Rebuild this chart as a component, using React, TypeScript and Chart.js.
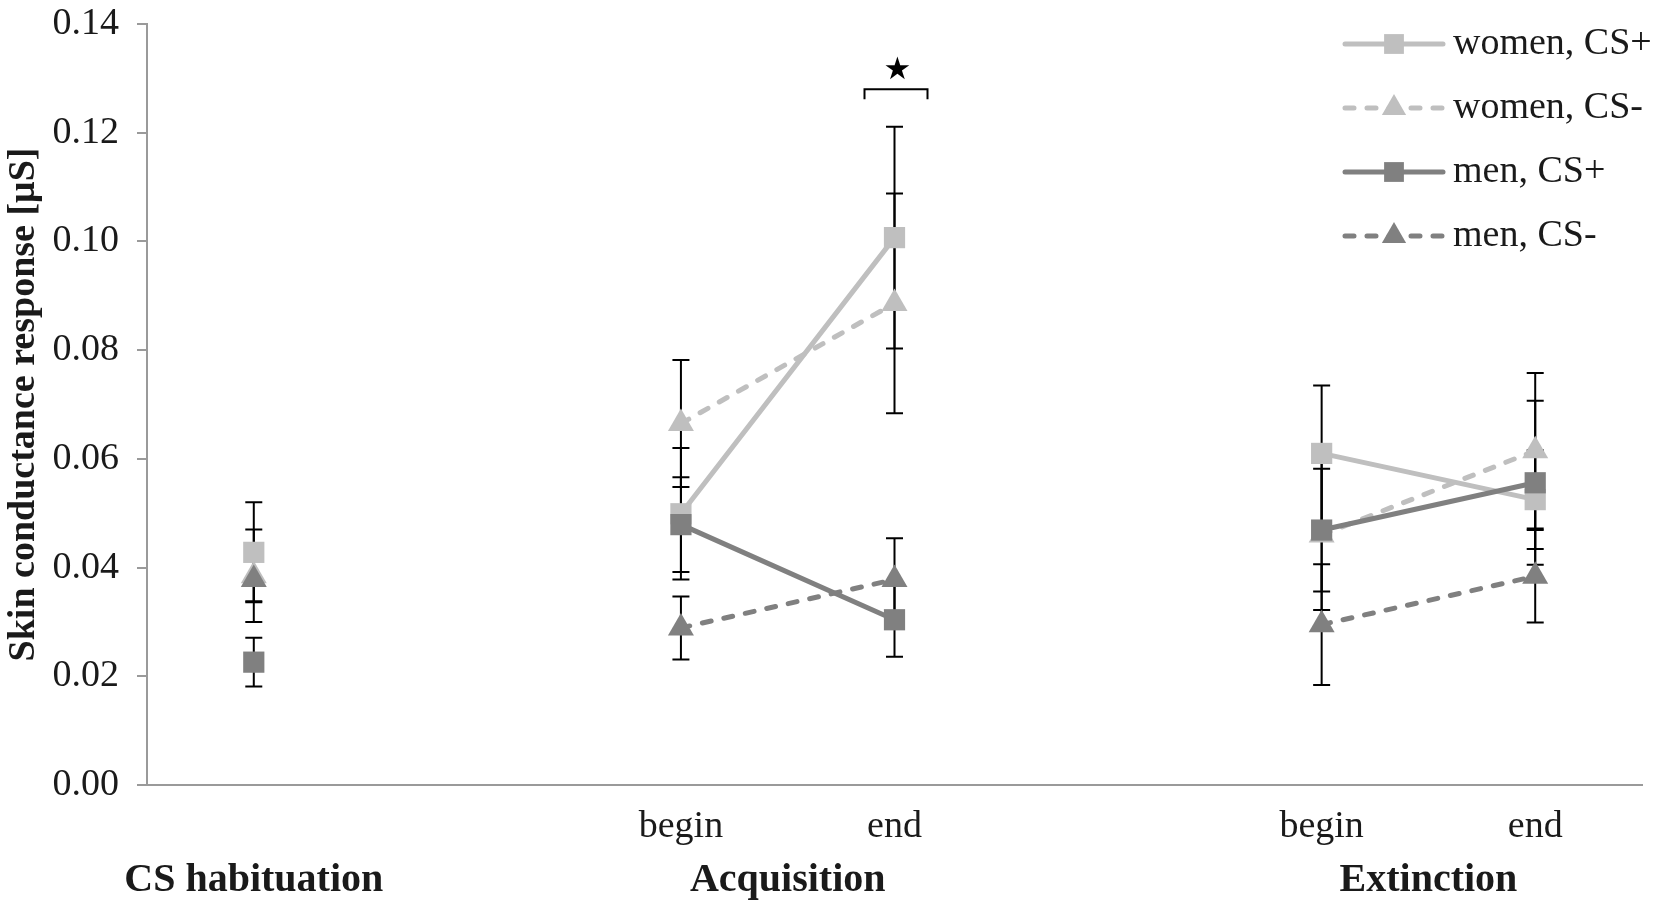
import { useEffect, useRef } from "react"
import { Chart, registerables } from "chart.js"

Chart.register(...registerables)

// x slots: 0 = CS habituation, 2/3 = acquisition begin/end, 5/6 = extinction begin/end
const categories = ["", "", "begin", "end", "", "begin", "end"]
const phaseLabels = ["CS habituation", "Acquisition", "Extinction"]
const phaseSpans = [[0, 0], [2, 3], [5, 6]]

const seriesNames = ["women, CS+", "women, CS-", "men, CS+", "men, CS-"]

const womenCSplus = [0.0428, null, 0.0499, 0.1007, null, 0.061, 0.0525]
const womenCSminus = [0.0385, null, 0.0665, 0.0886, null, 0.046, 0.0615]
const menCSplus = [0.0226, null, 0.0479, 0.0304, null, 0.0469, 0.0556]
const menCSminus = [0.0378, null, 0.0289, 0.0378, null, 0.0295, 0.0384]

const womenCSplusErr = [0.0092, null, 0.0121, 0.0204, null, 0.0125, 0.0091]
const womenCSminusErr = [0.0085, null, 0.0117, 0.0202, null, 0.0138, 0.0143]
const menCSplusErr = [0.0045, null, 0.0087, 0.0068, null, 0.0113, 0.0151]
const menCSminusErr = [0.004, null, 0.0058, 0.0076, null, 0.0111, 0.0085]

const sigIndex = 3
const sigLevel = 0.128

const seriesValues = [womenCSplus, womenCSminus, menCSplus, menCSminus]
const seriesErrors = [womenCSplusErr, womenCSminusErr, menCSplusErr, menCSminusErr]

const LIGHT = "#bfbfbf"
const DARK = "#808080"
const AXIS = "#9a9a9a"
const TEXT = "#1a1a1a"
const SERIF = "'Liberation Serif', 'Times New Roman', serif"
const DASH = [9, 13]

function marker(ctx: CanvasRenderingContext2D, style: string, x: number, y: number, r: number) {
  ctx.beginPath()
  if (style === "rect") {
    const h = r * Math.SQRT1_2
    ctx.rect(x - h, y - h, 2 * h, 2 * h)
  } else {
    ctx.moveTo(x, y - r)
    ctx.lineTo(x + r * Math.sin((2 * Math.PI) / 3), y - r * Math.cos((2 * Math.PI) / 3))
    ctx.lineTo(x + r * Math.sin((4 * Math.PI) / 3), y - r * Math.cos((4 * Math.PI) / 3))
    ctx.closePath()
  }
  ctx.fill()
}

const errorBars = {
  id: "errorBars",
  beforeDatasetsDraw(chart: any) {
    const { ctx, scales } = chart
    const { x, y } = scales
    ctx.save()
    ctx.strokeStyle = "#000"
    ctx.lineWidth = 2
    seriesErrors.forEach((errs, di) => {
      seriesValues[di].forEach((v, i) => {
        const e = errs[i]
        if (v == null || e == null) return
        const px = x.getPixelForValue(i)
        const top = y.getPixelForValue(v + e)
        const bot = y.getPixelForValue(v - e)
        ctx.beginPath()
        ctx.moveTo(px, top)
        ctx.lineTo(px, bot)
        ctx.moveTo(px - 8.5, top)
        ctx.lineTo(px + 8.5, top)
        ctx.moveTo(px - 8.5, bot)
        ctx.lineTo(px + 8.5, bot)
        ctx.stroke()
      })
    })
    ctx.restore()
  },
}

const extras = {
  id: "extras",
  afterDraw(chart: any) {
    const { ctx, scales, chartArea } = chart
    const { x, y } = scales
    ctx.save()

    // phase labels under the begin/end ticks
    ctx.fillStyle = TEXT
    ctx.font = `bold 40px ${SERIF}`
    ctx.textAlign = "center"
    ctx.textBaseline = "middle"
    phaseSpans.forEach(([a, b], i) => {
      const cx = (x.getPixelForValue(a) + x.getPixelForValue(b)) / 2
      ctx.fillText(phaseLabels[i], cx, 881)
    })

    // significance bracket
    const px = x.getPixelForValue(sigIndex)
    const py = y.getPixelForValue(sigLevel)
    ctx.strokeStyle = "#000"
    ctx.lineWidth = 2
    ctx.beginPath()
    ctx.moveTo(px - 30, py + 10)
    ctx.lineTo(px - 30, py)
    ctx.lineTo(px + 33, py)
    ctx.lineTo(px + 33, py + 10)
    ctx.stroke()
    ctx.fillStyle = "#000"
    ctx.font = "31px 'DejaVu Sans'"
    ctx.fillText("★", px + 3, py - 18)

    // legend: line sample with marker
    const ds = chart.data.datasets
    ds.forEach((d: any, i: number) => {
      const ry = chartArea.top + 20 + i * 64
      const x0 = chartArea.right - 297
      const x1 = chartArea.right - 199
      ctx.strokeStyle = d.borderColor
      ctx.lineWidth = 5
      ctx.lineCap = "round"
      ctx.setLineDash(d.borderDash || [])
      ctx.beginPath()
      ctx.moveTo(x0, ry)
      ctx.lineTo(x1, ry)
      ctx.stroke()
      ctx.setLineDash([])
      ctx.fillStyle = d.backgroundColor
      marker(ctx, d.pointStyle, (x0 + x1) / 2, ry, 14)
      ctx.fillStyle = TEXT
      ctx.font = `38px ${SERIF}`
      ctx.textAlign = "left"
      ctx.textBaseline = "middle"
      ctx.fillText(d.label, chartArea.right - 189, ry)
    })
    ctx.restore()
  },
}

export default function App() {
  const chartRef = useRef<HTMLCanvasElement>(null)

  useEffect(() => {
    document.body.style.margin = "0"
    if (!chartRef.current) return
    const ctx = chartRef.current.getContext("2d")
    if (!ctx) return

    const styles = [
      { color: LIGHT, dash: [], point: "rect", order: 4 },
      { color: LIGHT, dash: DASH, point: "triangle", order: 3 },
      { color: DARK, dash: [], point: "rect", order: 2 },
      { color: DARK, dash: DASH, point: "triangle", order: 1 },
    ]

    const chart = new Chart(ctx, {
      type: "line",
      data: {
        labels: categories,
        datasets: seriesValues.map((vals, i) => ({
          label: seriesNames[i],
          data: vals,
          borderColor: styles[i].color,
          backgroundColor: styles[i].color,
          borderWidth: 5,
          borderDash: styles[i].dash,
          borderCapStyle: "round",
          pointStyle: styles[i].point,
          pointRadius: 15,
          pointBorderWidth: 0,
          pointBackgroundColor: styles[i].color,
          spanGaps: false,
          order: styles[i].order,
        })),
      },
      options: {
        animation: false,
        responsive: true,
        maintainAspectRatio: false,
        layout: { padding: { top: 24, right: 17, left: 0, bottom: 0 } },
        plugins: {
          legend: { display: false },
          tooltip: { enabled: false },
        },
        scales: {
          x: {
            offset: true,
            grid: { display: false, drawTicks: false, tickLength: 0 },
            border: { display: true, color: AXIS, width: 2 },
            ticks: {
              color: TEXT,
              font: { family: SERIF, size: 38 },
              padding: 19,
              autoSkip: false,
              maxRotation: 0,
            },
            afterFit: (s: any) => {
              s.height = 127
              s.paddingLeft = 0
              s.paddingRight = 0
            },
          },
          y: {
            min: 0,
            max: 0.14,
            grid: {
              display: true,
              drawOnChartArea: false,
              drawTicks: true,
              tickLength: 10,
              color: AXIS,
              lineWidth: 2,
            },
            border: { display: true, color: AXIS, width: 2 },
            ticks: {
              stepSize: 0.02,
              color: TEXT,
              font: { family: SERIF, size: 38 },
              padding: 18,
              callback: (v: any) => Number(v).toFixed(2),
            },
            title: {
              display: true,
              text: "Skin conductance response [μS]",
              color: TEXT,
              font: { family: SERIF, size: 38, weight: "bold" },
              padding: 1,
            },
            afterFit: (s: any) => {
              s.width = 147
              s.paddingTop = 0
              s.paddingBottom = 0
            },
          },
        },
      },
      plugins: [errorBars, extras],
    } as any)

    return () => {
      chart.destroy()
    }
  }, [])

  return (
    <div style={{ width: 1659, height: 912, position: "relative", background: "#fff" }}>
      <canvas ref={chartRef} />
    </div>
  )
}
